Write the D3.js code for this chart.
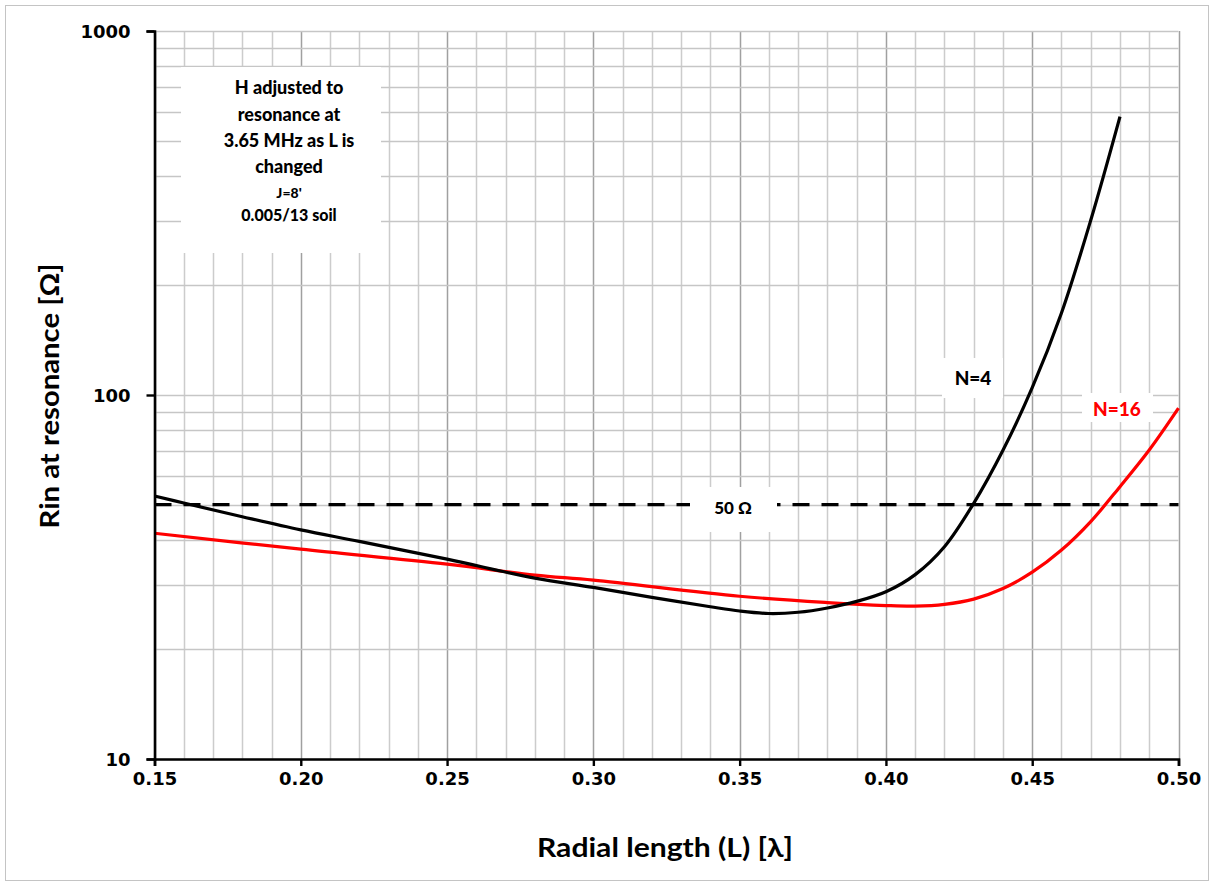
<!DOCTYPE html>
<html>
<head>
<meta charset="utf-8">
<script src="https://cdn.jsdelivr.net/npm/d3@7"></script>
<style>
  html, body { margin: 0; padding: 0; background: #fff; }
  svg { display: block; }
</style>
</head>
<body>
<svg id="chart" width="1215" height="886"></svg>
<script>
// ---- data ----
const lengthN4 = [0.15, 0.16, 0.18, 0.20, 0.22, 0.25, 0.28, 0.30, 0.32, 0.34, 0.35, 0.36, 0.37, 0.38, 0.39, 0.40, 0.41, 0.42, 0.43, 0.44, 0.45, 0.46, 0.47, 0.48];
const rinN4    = [52.8, 50.5, 46.3, 42.6, 39.6, 35.4, 31.4, 29.6, 27.8, 26.2, 25.5, 25.1, 25.3, 26.0, 27.1, 28.8, 32.1, 38.3, 50.4, 70.5, 104.7, 168, 302, 582];
const lengthN16 = [0.15, 0.20, 0.25, 0.28, 0.30, 0.35, 0.38, 0.40, 0.41, 0.42, 0.43, 0.44, 0.45, 0.46, 0.47, 0.48, 0.49, 0.50];
const rinN16    = [41.7, 37.7, 34.3, 32.0, 31.0, 28.0, 26.9, 26.4, 26.3, 26.6, 27.5, 29.4, 32.6, 37.5, 44.9, 56.0, 70.6, 92.0];
const refLine = 50;
const xTickLabels = [0.15, 0.20, 0.25, 0.30, 0.35, 0.40, 0.45, 0.50];
const yTickLabels = [10, 100, 1000];
const noteLines = ["H adjusted to", "resonance at", "3.65 MHz as L is", "changed", "J=8'", "0.005/13  soil"];

// ---- layout ----
const svg = d3.select("#chart");
const pLeft = 154.5, pRight = 1178.5, pTop = 31, pBottom = 759;
const x = d3.scaleLinear().domain([0.15, 0.50]).range([pLeft, pRight]);
const y = d3.scaleLog().domain([10, 1000]).range([pBottom, pTop]);

svg.append("rect").attr("x", 0).attr("y", 0).attr("width", 1215).attr("height", 886).attr("fill", "#fff");
svg.append("rect").attr("x", 5.5).attr("y", 5.5).attr("width", 1203).attr("height", 875)
  .attr("fill", "none").attr("stroke", "#c4c4c4").attr("stroke-width", 1);

// grid
const g = svg.append("g");
const minorX = d3.range(15, 51).map(d => d / 100);
g.selectAll("line.vx").data(minorX).join("line")
  .attr("x1", d => Math.round(x(d)) + 0.5).attr("x2", d => Math.round(x(d)) + 0.5)
  .attr("y1", pTop).attr("y2", pBottom)
  .attr("stroke", d => (Math.round(d * 100) % 5 === 0) ? "#a0a0a0" : "#cccccc")
  .attr("stroke-width", 1.5);
g.selectAll("line.hy").data(y.ticks()).join("line")
  .attr("x1", pLeft).attr("x2", pRight)
  .attr("y1", d => Math.round(y(d)) + 0.5).attr("y2", d => Math.round(y(d)) + 0.5)
  .attr("stroke", "#c6c6c6").attr("stroke-width", 1.5);

// 50 ohm dashed line
svg.append("line")
  .attr("x1", pLeft).attr("x2", pRight)
  .attr("y1", y(refLine)).attr("y2", y(refLine))
  .attr("stroke", "#000").attr("stroke-width", 3.2)
  .attr("stroke-dasharray", "17,12");

// white label boxes
const boxes = [
  [181, 67, 200, 186],
  [942, 358, 61, 40],
  [1082, 393, 71, 29],
  [690, 487, 87, 45]
];
svg.selectAll("rect.box").data(boxes).join("rect")
  .attr("x", d => d[0]).attr("y", d => d[1]).attr("width", d => d[2]).attr("height", d => d[3])
  .attr("fill", "#fff");

// curves
const line = d3.line().x(d => x(d[0])).y(d => y(d[1])).curve(d3.curveCatmullRom.alpha(0.5));
svg.append("path").datum(lengthN16.map((l, i) => [l, rinN16[i]]))
  .attr("d", line).attr("fill", "none").attr("stroke", "#ff0000").attr("stroke-width", 3.2);
svg.append("path").datum(lengthN4.map((l, i) => [l, rinN4[i]]))
  .attr("d", line).attr("fill", "none").attr("stroke", "#000").attr("stroke-width", 3.2);

// axes
const xAxis = d3.axisBottom(x).tickValues(xTickLabels).tickFormat(d3.format(".2f")).tickSize(7).tickPadding(6);
const yAxis = d3.axisLeft(y).tickValues(yTickLabels).tickFormat(d3.format("d")).tickSize(8).tickPadding(16);
const gx = svg.append("g").attr("transform", `translate(0,${pBottom})`).call(xAxis);
const gy = svg.append("g").attr("transform", `translate(${pLeft},0)`).call(yAxis);
[gx, gy].forEach(a => {
  a.select(".domain").attr("stroke", "#000").attr("stroke-width", 2.6);
  a.selectAll(".tick line").attr("stroke", "#000").attr("stroke-width", 2.4);
  a.selectAll(".tick text").attr("fill", "#000")
    .style("font-family", "'DejaVu Sans', Verdana, sans-serif")
    .style("font-weight", "bold").style("font-size", "18px");
});
gy.selectAll(".tick text").attr("dy", "0.36em");

// axis titles
svg.append("text").attr("x", 665).attr("y", 857).attr("text-anchor", "middle")
  .attr("textLength", 256).attr("lengthAdjust", "spacingAndGlyphs")
  .style("font-family", "Lato, 'Open Sans', sans-serif").style("font-weight", "bold").style("font-size", "26px")
  .text("Radial length (L) [λ]");
svg.append("text").attr("transform", "translate(59,396) rotate(-90)").attr("text-anchor", "middle")
  .attr("textLength", 265).attr("lengthAdjust", "spacingAndGlyphs")
  .style("font-family", "Lato, 'Open Sans', sans-serif").style("font-weight", "bold").style("font-size", "26px")
  .text("Rin at resonance [Ω]");

// annotation
const noteY = [94, 121, 147, 173, 198, 221];
const noteSize = [18, 18, 18, 18, 14, 16];
svg.selectAll("text.note").data(noteLines).join("text")
  .attr("x", 289).attr("y", (d, i) => noteY[i]).attr("text-anchor", "middle")
  .style("font-family", "Lato, 'Open Sans', sans-serif").style("font-weight", "900")
  .style("font-size", (d, i) => noteSize[i] + "px").attr("fill", "#000")
  .text(d => d);

// series labels
svg.append("text").attr("x", 973).attr("y", 385).attr("text-anchor", "middle")
  .style("font-family", "Lato, sans-serif").style("font-weight", "900").style("font-size", "19px")
  .attr("fill", "#000").text("N=4");
svg.append("text").attr("x", 1117).attr("y", 416).attr("text-anchor", "middle")
  .style("font-family", "Lato, sans-serif").style("font-weight", "900").style("font-size", "19px")
  .attr("fill", "#ff0000").text("N=16");
svg.append("text").attr("x", 733).attr("y", 514).attr("text-anchor", "middle")
  .style("font-family", "Lato, sans-serif").style("font-weight", "900").style("font-size", "17px")
  .attr("fill", "#000").text("50 Ω");
</script>
</body>
</html>
